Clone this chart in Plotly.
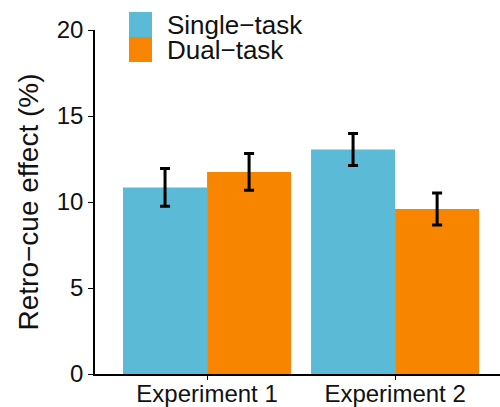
import plotly.graph_objects as go

categories = ["Experiment 1", "Experiment 2"]
single_vals = [10.85, 13.05]
single_err = [1.1, 0.93]
dual_vals = [11.75, 9.6]
dual_err = [1.07, 0.93]
series_names = ["Single\u2212task", "Dual\u2212task"]
colors = ["#5BBAD5", "#F78500"]
yticks = [0, 5, 10, 15, 20]

FONT = "Liberation Sans, Arial, sans-serif"

fig = go.Figure()
for name, vals, errs, col in [(series_names[0], single_vals, single_err, colors[0]),
                              (series_names[1], dual_vals, dual_err, colors[1])]:
    fig.add_trace(go.Bar(
        x=categories, y=vals, name=name, marker_color=col,
        marker_line_width=0,
        error_y=dict(type="data", array=errs, color="black", thickness=3, width=5),
        showlegend=False,
    ))

# custom legend (large squares)
for i, (name, col) in enumerate(zip(series_names, colors)):
    fig.add_shape(type="rect", xref="paper", yref="paper",
                  x0=(129 - 95) / 405, x1=(152 - 95) / 405,
                  y0=(407 - 33 - (12 + 25 * i + 25)) / 344, y1=(407 - 33 - (12 + 25 * i)) / 344,
                  fillcolor=col, line_width=0)
    fig.add_annotation(xref="paper", yref="paper",
                       x=(165 - 95) / 405, y=(407 - 33 - (24.5 + 25 * i)) / 344,
                       text=name, showarrow=False, xanchor="left", yanchor="middle",
                       font=dict(family=FONT, size=26, color="#111"))

fig.update_layout(
    width=500, height=407,
    margin=dict(l=95, r=0, t=30, b=33),
    paper_bgcolor="white", plot_bgcolor="white",
    barmode="group", bargap=0.106, bargroupgap=0,
    font=dict(family=FONT, size=24, color="#111"),
    xaxis=dict(range=[-0.596, 1.558], showline=True, linecolor="black", linewidth=1.5,
               ticks="outside", ticklen=4, tickcolor="black", tickwidth=1, automargin=False,
               ticklabelstandoff=-7,
               showgrid=False, zeroline=False, tickfont=dict(size=24)),
    yaxis=dict(range=[0, 20], tickvals=yticks, showline=True, linecolor="black", linewidth=1.5,
               ticks="outside", ticklen=5, tickcolor="black", tickwidth=1, automargin=False,
               showgrid=False, zeroline=False, tickfont=dict(size=24),
               title=dict(text="Retro\u2212cue effect (%)", font=dict(size=28), standoff=10)),
)

fig.write_html("out.html")
